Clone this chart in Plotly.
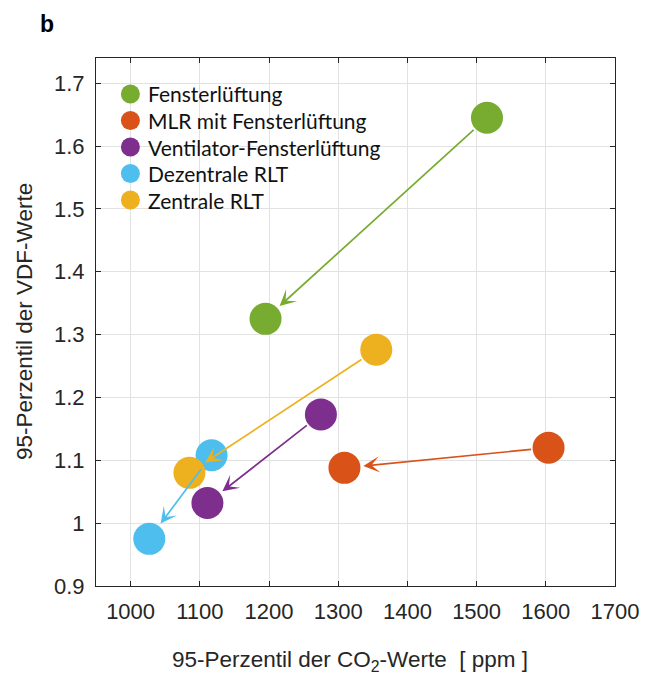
import plotly.graph_objects as go

# Ventilation concepts: 95th percentile of CO2 vs. VDF values, before -> after
series = [
    "Fensterlüftung",
    "MLR mit Fensterlüftung",
    "Ventilator-Fensterlüftung",
    "Dezentrale RLT",
    "Zentrale RLT",
]
co2_start = [1515, 1604, 1275, 1117, 1355]
vdf_start = [1.645, 1.120, 1.173, 1.108, 1.276]
co2_end = [1195, 1309, 1111, 1027, 1085]
vdf_end = [1.325, 1.088, 1.032, 0.975, 1.080]
colors = ["#77AC30", "#D95319", "#7E2F8E", "#4DBEEE", "#EDB120"]

x_ticks = [1000, 1100, 1200, 1300, 1400, 1500, 1600, 1700]
y_ticks = [0.9, 1.0, 1.1, 1.2, 1.3, 1.4, 1.5, 1.6, 1.7]
y_tick_text = ["0.9", "1", "1.1", "1.2", "1.3", "1.4", "1.5", "1.6", "1.7"]

W, H = 651, 675
ML, MR, MT, MB = 96, 27, 58, 89
PW, PH = W - ML - MR, H - MT - MB

AXIS_COLOR = "#262626"
GRID_COLOR = "#e2e2e2"
SANS = "Liberation Sans, Arial, sans-serif"
TICK_FONT = dict(family=SANS, size=22, color=AXIS_COLOR)
TITLE_FONT = dict(family=SANS, size=22.5, color=AXIS_COLOR)
LEGEND_FONT = dict(family="Lato, sans-serif", size=21, color="#111111")

fig = go.Figure()

for name, x0, y0, x1, y1, c in zip(series, co2_start, vdf_start, co2_end, vdf_end, colors):
    fig.add_trace(go.Scatter(
        x=[x0, x1], y=[y0, y1], mode="markers", name=name,
        marker=dict(size=32, color=c, line=dict(width=0)),
        showlegend=False,
    ))

annotations = []
for x0, y0, x1, y1, c in zip(co2_start, vdf_start, co2_end, vdf_end, colors):
    annotations.append(dict(
        x=x1, y=y1, ax=x0, ay=y0, xref="x", yref="y", axref="x", ayref="y",
        text="", showarrow=True, arrowhead=3, arrowsize=1.6, arrowwidth=1.7,
        arrowcolor=c, standoff=19, startstandoff=16,
    ))

# Legend: circles and labels placed in the upper-left corner of the axes
shapes = []
row_top, row_gap = 94, 26.5
for i, (name, c) in enumerate(zip(series, colors)):
    cy = row_top + i * row_gap
    py = 1 - (cy - MT) / PH
    px = (131 - ML) / PW
    shapes.append(dict(
        type="circle", xref="paper", yref="paper", xsizemode="pixel", ysizemode="pixel",
        xanchor=px, yanchor=py, x0=-9.5, x1=9.5, y0=-9.5, y1=9.5,
        fillcolor=c, line=dict(width=0), layer="above",
    ))
    annotations.append(dict(
        x=(147 - ML) / PW, y=py, xref="paper", yref="paper", xanchor="left", yanchor="middle",
        text=name, showarrow=False, font=LEGEND_FONT,
    ))

# Axis titles and panel letter
annotations.append(dict(
    x=0.5, y=0, xref="paper", yref="paper", xanchor="center", yanchor="middle",
    xshift=-6, yshift=-75, showarrow=False,
    text="95-Perzentil der CO<sub>2</sub>-Werte\u00a0\u00a0[ ppm ]",
    font=TITLE_FONT,
))
annotations.append(dict(
    x=0, y=0.5, xref="paper", yref="paper", xanchor="center", yanchor="middle",
    xshift=-(ML - 24), showarrow=False, textangle=-90,
    text="95-Perzentil der VDF-Werte",
    font=TITLE_FONT,
))
annotations.append(dict(
    x=0, y=1, xref="paper", yref="paper", xanchor="center", yanchor="middle",
    xshift=-(ML - 47), yshift=(MT - 24), showarrow=False, text="<b>b</b>",
    font=dict(family=SANS, size=23, color="#000000"),
))

axis_common = dict(
    showgrid=True, gridcolor=GRID_COLOR, gridwidth=1,
    showline=True, linecolor=AXIS_COLOR, linewidth=1, mirror="ticks",
    ticks="inside", ticklen=5, tickwidth=1, tickcolor=AXIS_COLOR,
    tickfont=TICK_FONT, zeroline=False, fixedrange=True,
)

fig.update_layout(
    width=W, height=H,
    margin=dict(l=ML, r=MR, t=MT, b=MB, pad=0),
    paper_bgcolor="white", plot_bgcolor="white",
    xaxis=dict(range=[950, 1700], tickvals=x_ticks, ticklabelstandoff=6, **axis_common),
    yaxis=dict(range=[0.9, 1.74], tickvals=y_ticks, ticktext=y_tick_text,
               ticklabelstandoff=6, **axis_common),
    annotations=annotations,
    shapes=shapes,
    showlegend=False,
)

fig.write_html("out.html")
